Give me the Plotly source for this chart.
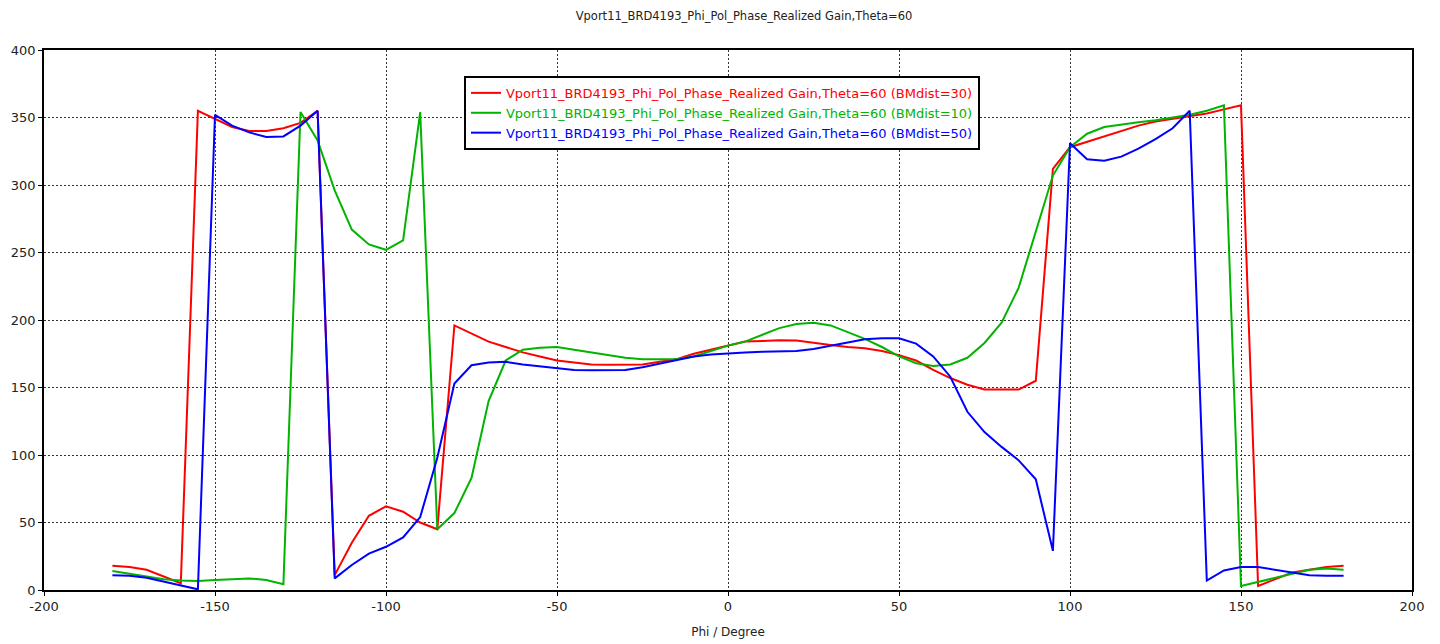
import plotly.graph_objects as go

phi = list(range(-180, 181, 5))

bm30 = [18, 17, 15, 10, 5, 355, 349, 343, 340, 340, 342, 346, 355, 11, 35, 55, 62, 58, 50, 45,
        196, 190, 184, 180, 176, 173, 170, 168.5, 167, 166.8, 166.8, 167, 169, 171, 175, 178,
        181, 184, 184.5, 185, 184.8, 183, 181.5, 180, 179, 177, 174, 170, 163, 157, 152, 148.5,
        148.5, 148.5, 155, 312, 328, 332, 336, 340, 344, 347, 349, 351, 353, 356, 359, 3, 8, 13,
        15, 17, 18]

bm10 = [14, 12, 10, 8, 7, 6.7, 7.4, 8, 8.6, 7.4, 4.2, 354, 333, 296, 267, 256, 252, 259, 354, 45,
        57, 83, 140, 170, 178, 179.5, 180, 178, 176, 174, 172, 171, 171, 171, 173, 177,
        181, 184, 189, 194, 197, 198, 196, 191, 186, 180, 173, 168, 166, 167, 172, 183,
        198, 224, 266, 307, 328, 338, 343, 345, 346.5, 348, 350, 352, 355, 359, 3, 6, 9, 12,
        15, 16, 15]

bm50 = [11, 10.5, 9, 6, 3, 0.5, 352, 344, 339, 335.5, 336, 344, 355, 8.6, 18.5, 27, 32, 39, 54, 98,
        153, 166.5, 168.5, 169, 167, 165.5, 164, 163, 162.8, 162.8, 163, 165, 167.5, 170.5, 173, 174.5,
        175.5, 176, 176.5, 177, 177, 178.5, 181, 183.5, 185.7, 186.5, 186.5, 182.5, 173, 158, 132, 117,
        106, 96, 82, 29, 331, 319, 318, 321, 327, 334, 342, 355, 7, 14.5, 17, 17, 15, 13,
        11, 10.6, 10.6]

series = [
    ("Vport11_BRD4193_Phi_Pol_Phase_Realized Gain,Theta=60 (BMdist=30)", bm30, "#ff0000"),
    ("Vport11_BRD4193_Phi_Pol_Phase_Realized Gain,Theta=60 (BMdist=10)", bm10, "#00b400"),
    ("Vport11_BRD4193_Phi_Pol_Phase_Realized Gain,Theta=60 (BMdist=50)", bm50, "#0000ff"),
]

x_ticks = list(range(-200, 201, 50))
y_ticks = list(range(0, 401, 50))

fig = go.Figure()
for name, vals, col in series:
    fig.add_trace(go.Scatter(
        x=phi, y=vals, mode="lines",
        line=dict(color=col, width=2),
        name=f'<span style="color:{col}">{name}</span>',
    ))

font = "DejaVu Sans, Verdana, sans-serif"
fig.update_layout(
    width=1440, height=644,
    margin=dict(l=44, r=28, t=50, b=54, autoexpand=False),
    paper_bgcolor="white", plot_bgcolor="white",
    font=dict(family=font, size=12, color="#222"),
    title=dict(text="Vport11_BRD4193_Phi_Pol_Phase_Realized Gain,Theta=60",
               x=0.5167, xanchor="center", y=0.975, yanchor="middle",
               font=dict(family=font, size=11.5, color="#222")),
    showlegend=True,
    legend=dict(x=0.307, y=0.952, xanchor="left", yanchor="top",
                bgcolor="white", bordercolor="black", borderwidth=2,
                font=dict(family=font, size=13), tracegroupgap=0,
                itemwidth=30),
    xaxis=dict(range=[-200, 200], tickvals=x_ticks, ticktext=[str(v) for v in x_ticks],
               showgrid=True, gridcolor="#333", griddash="2px,2px", gridwidth=1,
               showline=True, linecolor="black", linewidth=1.5, mirror=True,
               ticks="outside", ticklen=4, tickcolor="black", automargin=False,
               tickfont=dict(size=13), zeroline=False,
               title=dict(text="Phi / Degree", font=dict(size=12), standoff=14)),
    yaxis=dict(range=[0, 400], tickvals=y_ticks, ticktext=[str(v) for v in y_ticks],
               showgrid=True, gridcolor="#333", griddash="2px,2px", gridwidth=1,
               showline=True, linecolor="black", linewidth=1.5, mirror=True,
               ticks="outside", ticklen=4, tickcolor="black", automargin=False,
               tickfont=dict(size=13), zeroline=False),
)

fig.write_html("out.html")
